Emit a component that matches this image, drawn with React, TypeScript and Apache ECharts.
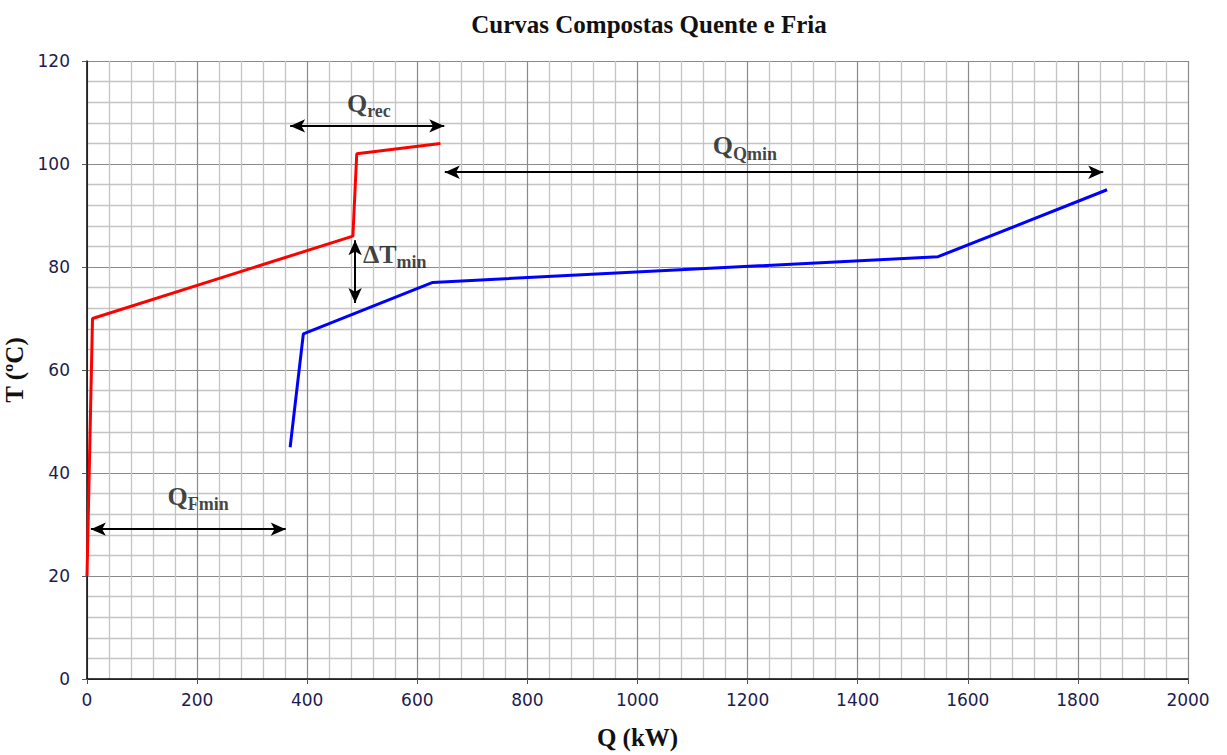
import React, { useEffect, useRef } from "react";
import * as echarts from "echarts";

// Hot composite curve (Q kW, T °C)
const hotQ = [0, 10, 483, 490, 642];
const hotT = [20, 70, 86, 102, 104];
// Cold composite curve
const coldQ = [369, 393, 628, 1546, 1853];
const coldT = [45, 67, 77, 82, 95];

// Annotation arrows (start Q, start T, end Q, end T)
const arrowFrom: [number, number][] = [
  [369, 107.4],
  [650, 98.4],
  [487, 85.2],
  [7, 29.1],
];
const arrowTo: [number, number][] = [
  [649, 107.4],
  [1846, 98.4],
  [487, 73.0],
  [361, 29.1],
];

// Annotation labels
const labelMain = ["Q", "Q", "ΔT", "Q"];
const labelSub = ["rec", "Qmin", "min", "Fmin"];
const labelQ = [512, 1195, 559, 202];
const labelT = [111.8, 103.5, 82.5, 35.5];

const title = "Curvas Compostas Quente e Fria";
const xName = "Q (kW)";
const yName = "T (ºC)";

const serif = "'Liberation Serif', 'Times New Roman', serif";
const sans = "'DejaVu Sans', Verdana, sans-serif";

export default function App() {
  const ref = useRef<HTMLDivElement>(null);

  useEffect(() => {
    if (!ref.current) return;
    const chart = echarts.init(ref.current, undefined, { renderer: "svg" });

    const hotData = hotQ.map((q, i) => [q, hotT[i]]);
    const coldData = coldQ.map((q, i) => [q, coldT[i]]);
    const labelData = labelQ.map((q, i) => ({
      value: [q, labelT[i]],
      main: labelMain[i],
      sub: labelSub[i],
    }));
    const arrowData = arrowFrom.map((f, i) => [
      { coord: f },
      { coord: arrowTo[i] },
    ]);

    const axisCommon = {
      axisLine: { show: true, onZero: false, lineStyle: { color: "#000", width: 1.5 } },
      axisTick: { show: true, inside: false, length: 5, lineStyle: { color: "#555" } },
      splitLine: { show: true, lineStyle: { color: "#8a8a8a", width: 1.2 } },
      minorTick: { show: false, splitNumber: 5 },
      minorSplitLine: { show: true, lineStyle: { color: "#c4c4c4", width: 1.3 } },
      nameTextStyle: { fontFamily: serif, fontWeight: "bold", fontSize: 25, color: "#111" },
    };

    chart.setOption({
      animation: false,
      backgroundColor: "#fff",
      title: {
        text: title,
        left: 644,
        top: 7,
        textAlign: "center",
        textStyle: { fontFamily: serif, fontWeight: "bold", fontSize: 25, color: "#111" },
      },
      grid: { left: 87, right: 39, top: 61, bottom: 76, containLabel: false, outerBoundsMode: "none" },
      xAxis: {
        type: "value",
        min: 0,
        max: 2000,
        interval: 200,
        name: xName,
        nameLocation: "middle",
        nameGap: 46,
        axisLabel: { fontFamily: sans, fontSize: 17, color: "#1c1c50", margin: 12, formatter: (v: number) => String(v) },
        ...axisCommon,
      },
      yAxis: {
        type: "value",
        min: 0,
        max: 120,
        interval: 20,
        name: yName,
        nameLocation: "middle",
        nameGap: 49,
        nameRotate: 90,
        axisLabel: { fontFamily: sans, fontSize: 17, color: "#1c1c50", margin: 17, formatter: (v: number) => String(v) },
        ...axisCommon,
      },
      series: [
        {
          type: "line",
          name: "Quente",
          data: hotData,
          symbol: "none",
          lineStyle: { color: "#ff0000", width: 3 },
          z: 3,
        },
        {
          type: "line",
          name: "Fria",
          data: coldData,
          symbol: "none",
          lineStyle: { color: "#0000ff", width: 3 },
          z: 3,
        },
        {
          type: "scatter",
          name: "anotacoes",
          data: labelData,
          symbolSize: 0,
          z: 4,
          label: {
            show: true,
            position: "inside",
            formatter: (p: any) => `{m|${p.data.main}}{s|${p.data.sub}}`,
            rich: {
              m: { fontFamily: serif, fontWeight: "bold", fontSize: 26, color: "#111", verticalAlign: "bottom" },
              s: { fontFamily: serif, fontWeight: "bold", fontSize: 18, color: "#111", verticalAlign: "bottom", padding: [0, 0, -4, 0] },
            },
          },
          markLine: {
            silent: true,
            symbol: ["arrow", "arrow"],
            symbolSize: [10, 15],
            label: { show: false },
            lineStyle: { color: "#000", width: 2, type: "solid" },
            data: arrowData,
          },
        },
      ],
    });

    return () => chart.dispose();
  }, []);

  return (
    <div
      ref={ref}
      style={{ position: "fixed", left: 0, top: 0, width: 1227, height: 755 }}
    />
  );
}
